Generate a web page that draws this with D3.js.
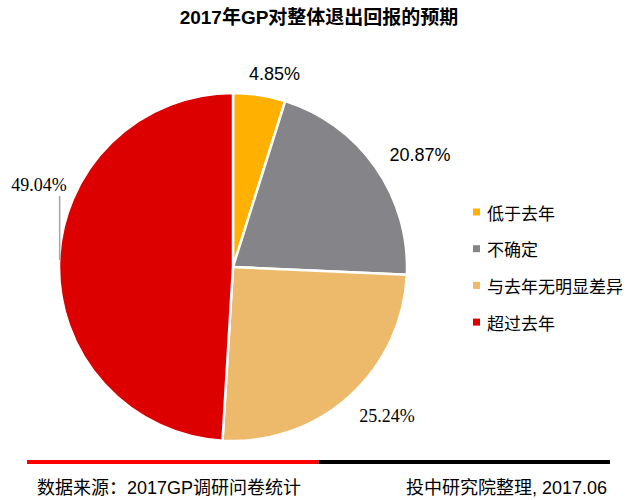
<!DOCTYPE html>
<html><head><meta charset="utf-8">
<script src="https://cdn.jsdelivr.net/npm/d3@7/dist/d3.min.js"></script>
<style>
body{margin:0;background:#fff;}
text{font-family:"Liberation Sans",Arial,"Noto Sans CJK SC",sans-serif;}
</style></head>
<body><svg id="c" width="636" height="500"></svg>
<script>
const categories = ["低于去年","不确定","与去年无明显差异","超过去年"];
const values = [4.85, 20.87, 25.24, 49.04];
const colors = ["#FFB000","#858489","#ECBA6A","#DD0000"];
const title = "2017年GP对整体退出回报的预期";
const sourceLeft = "数据来源：2017GP调研问卷统计";
const sourceRight = "投中研究院整理, 2017.06";

const svg = d3.select("#c");
const cx = 233, cy = 267, R = 174;

svg.append("text").attr("x",319).attr("y",24).attr("text-anchor","middle")
  .attr("font-size",19).attr("font-weight","bold").attr("fill","#000").text(title);

const pie = d3.pie().sort(null).value(d=>d).startAngle(0).endAngle(2*Math.PI);
const arcs = pie(values);
const arc = d3.arc().innerRadius(0).outerRadius(R);
const g = svg.append("g").attr("transform",`translate(${cx},${cy})`);
g.selectAll("path").data(arcs).enter().append("path")
  .attr("d",arc).attr("fill",(d,i)=>colors[i])
  .attr("stroke","#fff").attr("stroke-width",2.5).attr("stroke-linejoin","round");

// label layout (angle nudge in radians, radius, font)
const labelLayout = [
  {da:0.06, r:197, font:"Liberation Sans"},
  {da:0.07, r:218, font:"Liberation Sans"},
  {da:-0.07, r:214, font:"Liberation Serif"},
  null
];
const fmt = v => v.toFixed(2)+"%";
arcs.forEach((d,i)=>{
  const L = labelLayout[i];
  if(!L) return;
  const a = (d.startAngle+d.endAngle)/2 + L.da;
  const x = L.r*Math.sin(a), y = -L.r*Math.cos(a);
  g.append("text").attr("x",x).attr("y",y).attr("text-anchor","middle")
    .attr("dominant-baseline","central").attr("font-size",18)
    .style("font-family",L.font).attr("fill","#000").text(fmt(values[i]));
});
// big slice label with leader
{
  const a = 2*Math.PI*0.7564;
  const px = (R-0.5)*Math.sin(a), py = -(R-0.5)*Math.cos(a);
  g.append("line").attr("x1",px).attr("y1",py).attr("x2",px).attr("y2",py-64)
    .attr("stroke","#A6A6A6").attr("stroke-width",1.5);
  g.append("text").attr("x",px+7).attr("y",py-69).attr("text-anchor","end")
    .attr("font-size",18).style("font-family","Liberation Serif").attr("fill","#000")
    .text(fmt(values[3]));
}

// legend
const lg = svg.append("g").attr("transform","translate(473,212)");
categories.forEach((c,i)=>{
  const row = lg.append("g").attr("transform",`translate(0,${i*36.7})`);
  row.append("rect").attr("x",0).attr("y",-3.5).attr("width",7).attr("height",7).attr("fill",colors[i]);
  row.append("text").attr("x",14).attr("y",0).attr("dominant-baseline","central")
    .attr("font-size",17).style("font-family","'Noto Sans CJK SC'").attr("fill","#000").text(c);
});

// footer
const fx = d3.scaleLinear().domain([0,1]).range([27,610]);
svg.append("line").attr("x1",fx(0)).attr("x2",fx(0.5)).attr("y1",462).attr("y2",462).attr("stroke","#FF0000").attr("stroke-width",4);
svg.append("line").attr("x1",fx(0.5)).attr("x2",fx(1)).attr("y1",462).attr("y2",462).attr("stroke","#000").attr("stroke-width",4);
svg.append("text").attr("x",37).attr("y",494).attr("font-size",18).attr("fill","#000").text(sourceLeft);
svg.append("text").attr("x",607).attr("y",494).attr("text-anchor","end").attr("font-size",18).attr("fill","#000").text(sourceRight);
</script></body></html>
